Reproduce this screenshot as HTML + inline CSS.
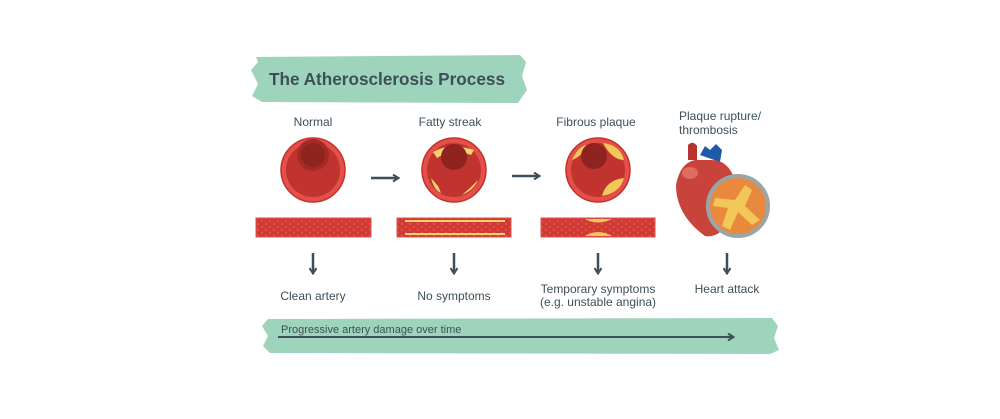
<!DOCTYPE html>
<html><head><meta charset="utf-8"><style>
html,body{margin:0;padding:0;background:#fff;}
svg{display:block;font-family:"Liberation Sans",sans-serif;}
</style></head><body>
<svg width="1000" height="419" viewBox="0 0 1000 419" xmlns="http://www.w3.org/2000/svg">
<defs>
<marker id="ah" markerWidth="8" markerHeight="8" refX="6" refY="4" orient="auto" markerUnits="userSpaceOnUse">
<path d="M1,0.5 L6.5,4 L1,7.5" fill="none" stroke="#3d4f58" stroke-width="2"/></marker>
<pattern id="dots" width="8" height="6" patternUnits="userSpaceOnUse"><rect width="8" height="6" fill="#cf3a35"/><circle cx="2" cy="2" r="1.2" fill="#e2504a"/><circle cx="6" cy="5" r="1.1" fill="#e2504a"/></pattern>
</defs>
<path d="M256,57 L520,55 L526,62 L522,76 L527,90 L518,103 L262,102 L252,96 L258,84 L251,70 L258,62 Z" fill="#9fd4bc"/>
<text x="387" y="85" text-anchor="middle" font-size="17.5" font-weight="bold" fill="#3d4f58" textLength="236" lengthAdjust="spacingAndGlyphs">The Atherosclerosis Process</text>
<g font-size="12" fill="#3d4f58" text-anchor="middle">
<text x="313" y="126">Normal</text>
<text x="450" y="126">Fatty streak</text>
<text x="596" y="126">Fibrous plaque</text>
<text x="679" y="120" text-anchor="start">Plaque rupture/</text>
<text x="679" y="134" text-anchor="start">thrombosis</text>
<text x="313" y="300">Clean artery</text>
<text x="454" y="300">No symptoms</text>
<text x="598" y="293">Temporary symptoms</text>
<text x="598" y="306">(e.g. unstable angina)</text>
<text x="727" y="293">Heart attack</text>
</g>
<circle cx="313" cy="170" r="32" fill="#e2504a" stroke="#c8302d" stroke-width="1.5"/>
<circle cx="313" cy="170" r="27" fill="#c0332f"/>
<circle cx="313" cy="155" r="16" fill="#a52a26"/>
<circle cx="313" cy="155" r="12" fill="#8e2320"/>
<circle cx="454" cy="170" r="32" fill="#e2504a" stroke="#c8302d" stroke-width="1.5"/>
<circle cx="454" cy="170" r="27" fill="#c0332f"/>
<path d="M433,152 Q450,142 474,150 L471,155 Q452,148 437,158 Z" fill="#f2d36b"/>
<path d="M431,178 Q434,190 441,193 L438,186 Z" fill="#f2d36b"/>
<path d="M462,195 Q474,190 478,180 L470,188 Z" fill="#f2d36b"/>
<circle cx="454" cy="157" r="13" fill="#8e2320"/>
<circle cx="598" cy="170" r="32" fill="#e2504a" stroke="#c8302d" stroke-width="1.5"/>
<circle cx="598" cy="170" r="27" fill="#c0332f"/>
<path d="M603,143 Q620,145 624,160 Q612,160 603,143 Z" fill="#f2c75a"/>
<path d="M602,196 Q606,180 624,178 Q620,193 602,196 Z" fill="#f2c75a"/>
<path d="M572,160 Q578,147 586,145 Q583,156 572,160 Z" fill="#f2c75a"/>
<circle cx="594" cy="156" r="13" fill="#8e2320"/>
<rect x="256" y="218" width="115" height="19" fill="url(#dots)" stroke="#e2504a"/>
<rect x="397" y="218" width="114" height="19" fill="url(#dots)" stroke="#e2504a"/>
<path d="M405,221 L505,221 M405,234 L505,234" stroke="#f2d36b" stroke-width="2"/>
<rect x="541" y="218" width="114" height="19" fill="url(#dots)" stroke="#e2504a"/>
<path d="M585,219 Q598,226 612,219 Z M585,236 Q598,228 612,236 Z" fill="#f2c75a"/>
<path d="M688,160 L688,145 Q693,140 697,146 L697,160 Z" fill="#b8322e"/>
<path d="M700,155 L705,146 L710,150 L716,144 L722,150 L720,162 Z" fill="#1e5aa8"/>
<path d="M695,160 Q680,163 676,185 Q676,215 705,236 Q718,238 726,225 L735,180 Q728,160 712,160 Z" fill="#c8433a"/>
<ellipse cx="690" cy="173" rx="8" ry="6" fill="#e57d73" opacity="0.7"/>
<circle cx="738" cy="206" r="30" fill="#e9893e" stroke="#9aa5a8" stroke-width="4"/>
<path d="M715,198 L735,200 L745,185 L752,190 L745,206 L760,220 L752,225 L738,212 L730,230 L722,226 L728,208 L713,206 Z" fill="#f2c75a"/>
<line x1="371" y1="178" x2="398" y2="178" stroke="#3d4f58" stroke-width="2.5" marker-end="url(#ah)"/>
<line x1="512" y1="176" x2="539" y2="176" stroke="#3d4f58" stroke-width="2.5" marker-end="url(#ah)"/>
<g stroke="#3d4f58" stroke-width="2.5">
<line x1="313" y1="253" x2="313" y2="273" marker-end="url(#ah)"/>
<line x1="454" y1="253" x2="454" y2="273" marker-end="url(#ah)"/>
<line x1="598" y1="253" x2="598" y2="273" marker-end="url(#ah)"/>
<line x1="727" y1="253" x2="727" y2="273" marker-end="url(#ah)"/>
</g>
<path d="M268,319 L772,318 L778,326 L774,338 L779,350 L770,354 L270,353 L263,346 L268,336 L262,326 Z" fill="#9fd4bc"/>
<text x="281" y="333" font-size="11" fill="#3d4f58">Progressive artery damage over time</text>
<line x1="278" y1="337" x2="733" y2="337" stroke="#3d4f58" stroke-width="2" marker-end="url(#ah)"/>
</svg>
</body></html>
